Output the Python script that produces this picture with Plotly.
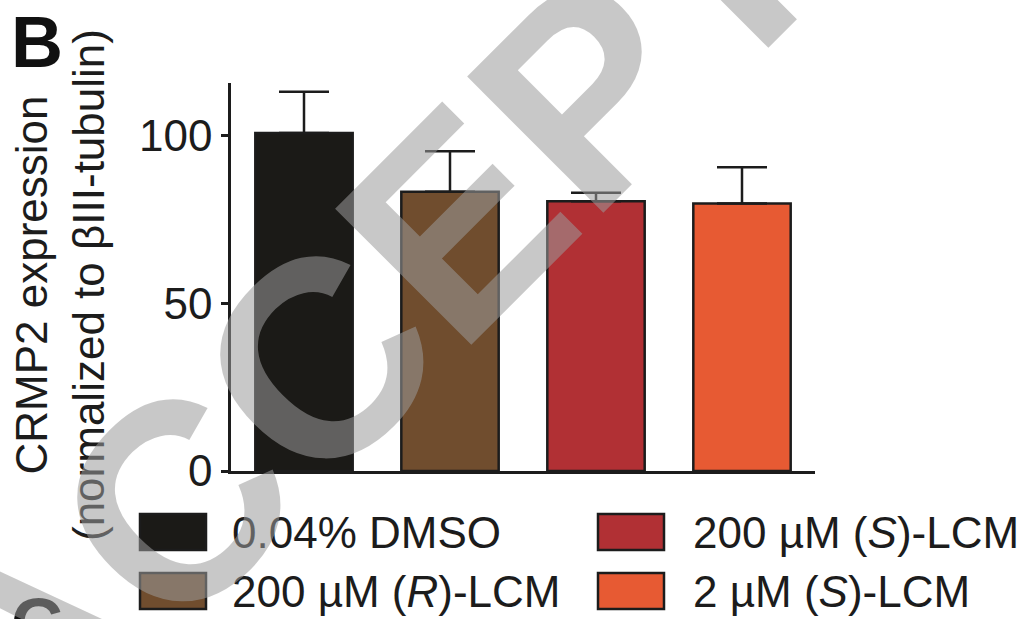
import plotly.graph_objects as go

# CRMP2 expression after treatment, normalized to bIII-tubulin (mean + SEM)
groups = ["0.04% DMSO", "200 µM (R)-LCM", "200 µM (S)-LCM", "2 µM (S)-LCM"]
legend_labels = ["0.04% DMSO", "200 µM (<i>R</i>)-LCM",
                 "200 µM (<i>S</i>)-LCM", "2 µM (<i>S</i>)-LCM"]
means = [100.7, 83.2, 80.4, 79.7]
sems = [12.3, 12.1, 2.5, 10.8]
colors = ["#1b1a17", "#704d2e", "#b13034", "#e75a33"]
y_ticks = [0, 50, 100]

FONT = "Liberation Sans, Arial, Helvetica, sans-serif"
INK = "#1c1c1c"

W, H = 1024, 619
L, R, T, B = 231, 209, 83, 148
PW, PH = W - L - R, H - T - B


def px_to_paper(px, py):
    return (px - L) / PW, (H - B - py) / PH


fig = go.Figure()
fig.add_trace(go.Bar(
    x=groups,
    y=means,
    marker=dict(color=colors, line=dict(color=INK, width=2.5)),
    error_y=dict(type="data", array=sems, arrayminus=[0] * len(sems),
                 symmetric=False, color=INK, thickness=2.5, width=25),
    width=0.667,
    showlegend=False,
))

shapes = []
annotations = []

# Legend: two columns of colour swatches with labels
sw_x = [140, 598]
txt_x = [230, 691]
row_y = [532, 591]
sw_w, sw_h = 66, 36
for i, (lab, col) in enumerate(zip(legend_labels, colors)):
    c, r = i // 2, i % 2
    x0, y0 = px_to_paper(sw_x[c], row_y[r] - sw_h / 2)
    x1, y1 = px_to_paper(sw_x[c] + sw_w, row_y[r] + sw_h / 2)
    shapes.append(dict(type="rect", xref="paper", yref="paper",
                       x0=x0, x1=x1, y0=y1, y1=y0,
                       fillcolor=col, line=dict(color=INK, width=2.5)))
    tx, ty = px_to_paper(txt_x[c], row_y[r])
    annotations.append(dict(text=lab, xref="paper", yref="paper", x=tx, y=ty,
                            xanchor="left", yanchor="middle", showarrow=False,
                            font=dict(family=FONT, size=44, color=INK)))

# Y-axis title (two lines)
tx, ty = px_to_paper(60, 285)
annotations.append(dict(text="CRMP2 expression<br>(normalized to βIII-tubulin)",
                        xref="paper", yref="paper", x=tx, y=ty, textangle=-90,
                        xanchor="center", yanchor="middle", showarrow=False,
                        font=dict(family=FONT, size=44, color=INK)))

# Panel letters
bx, by = px_to_paper(9, 0)
annotations.append(dict(text="<b>B</b>", xref="paper", yref="paper", x=bx, y=by,
                        xanchor="left", yanchor="top", showarrow=False,
                        font=dict(family=FONT, size=72, color="#111111")))
cx, cy = px_to_paper(9, 582)
annotations.append(dict(text="<b>C</b>", xref="paper", yref="paper", x=cx, y=cy,
                        xanchor="left", yanchor="top", showarrow=False,
                        font=dict(family=FONT, size=72, color="#111111")))

# Diagonal manuscript watermark
wx, wy = px_to_paper(505, 174)
annotations.append(dict(text="<b>ACCEPTED</b>", xref="paper", yref="paper",
                        x=wx, y=wy, textangle=-45, xanchor="center",
                        yanchor="middle", showarrow=False,
                        font=dict(family=FONT, size=280,
                                  color="rgba(155,155,155,0.55)")))

fig.update_layout(
    width=W, height=H,
    margin=dict(l=L, r=R, t=T, b=B, autoexpand=False),
    paper_bgcolor="white", plot_bgcolor="white",
    shapes=shapes, annotations=annotations,
    xaxis=dict(range=[-0.5, 3.5], showticklabels=False, ticks="",
               showline=True, linecolor=INK, linewidth=2.5,
               showgrid=False, zeroline=False),
    yaxis=dict(range=[0, 115.6], tickvals=y_ticks, ticks="outside",
               ticklen=7, tickwidth=2.5, tickcolor=INK,
               showline=True, linecolor=INK, linewidth=2.5,
               showgrid=False, zeroline=False,
               tickfont=dict(family=FONT, size=44, color=INK)),
    bargap=0.333,
)

fig.write_html("out.html")
